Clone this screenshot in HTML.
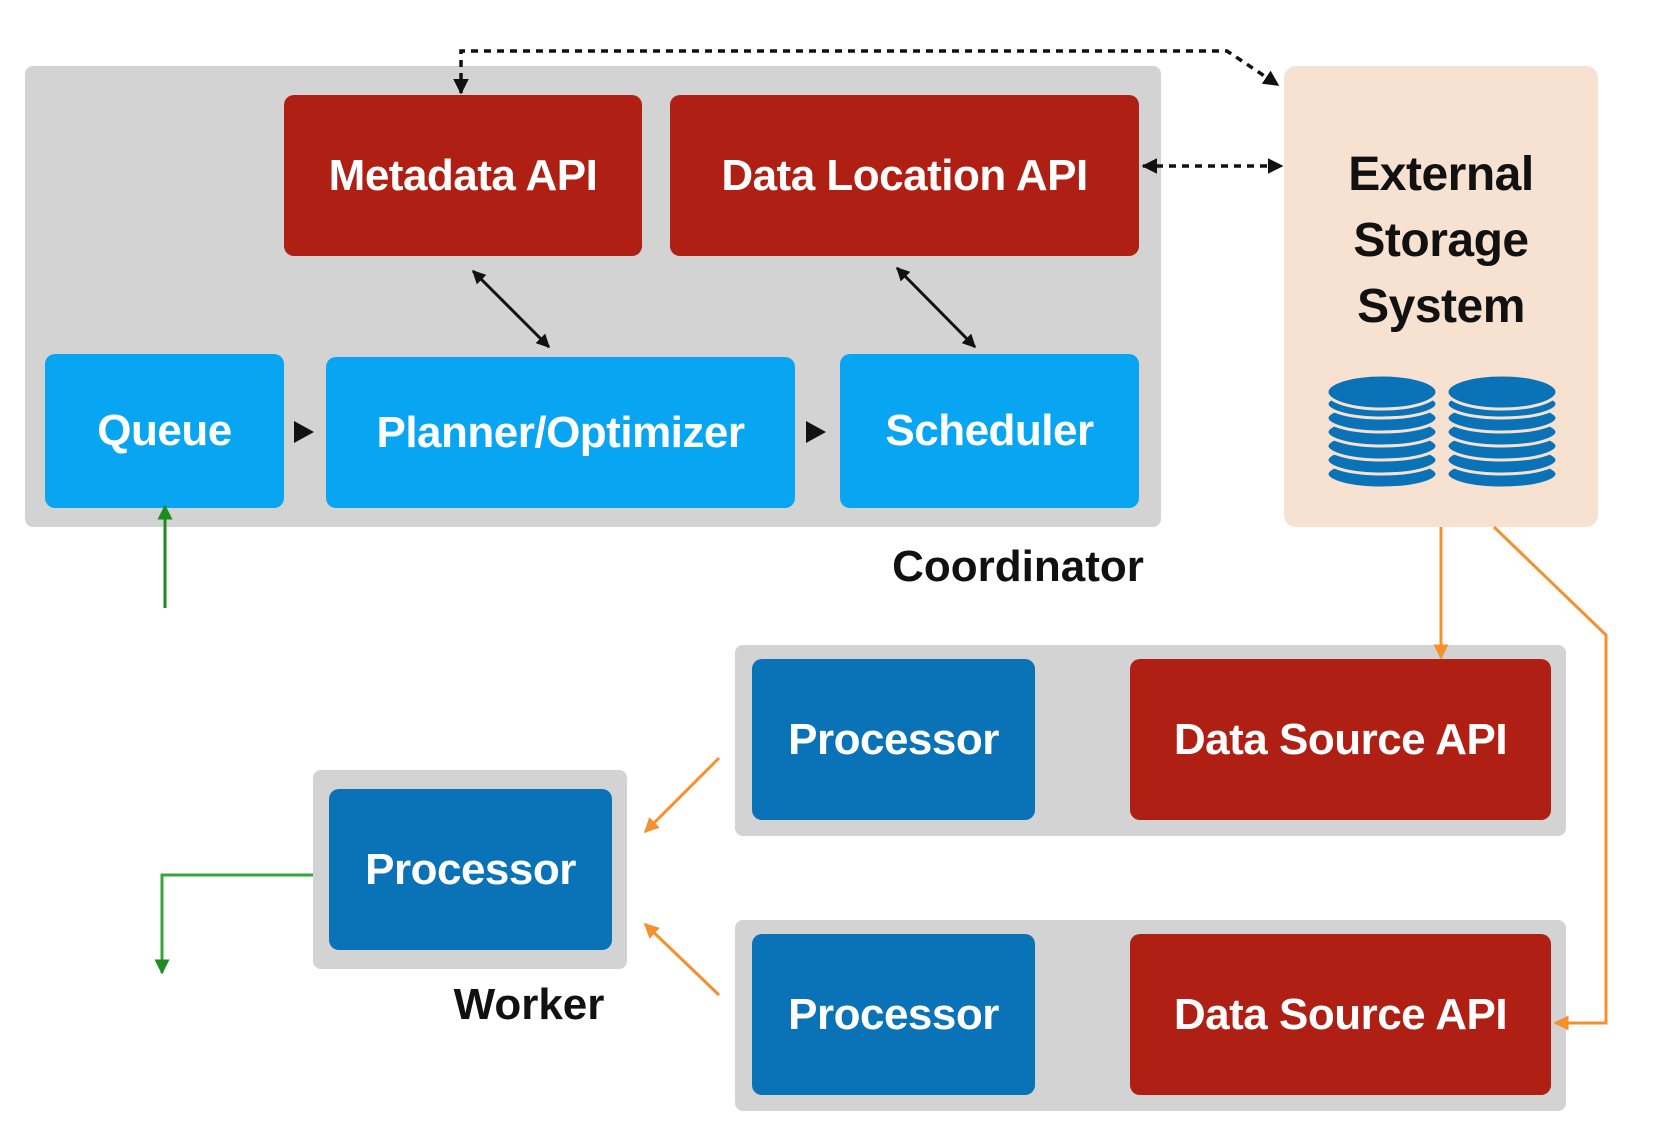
<!DOCTYPE html>
<html><head><meta charset="utf-8"><style>
body{margin:0;width:1659px;height:1143px;background:#fff;position:relative;overflow:hidden;font-family:"Liberation Sans",sans-serif;font-weight:bold}
div{position:absolute;box-sizing:border-box}
.g{background:#d3d3d3;border-radius:8px}
.b{border-radius:10px;color:#fff;display:flex;align-items:center;justify-content:center;font-size:44px;letter-spacing:-0.5px}
.r{background:#b01f13}
.l{background:#08a6f2}
.d{background:#0a72b6}
.t{color:#111;font-size:44px;text-align:center}
</style></head><body>
<div class="g" style="left:25px;top:66px;width:1136px;height:461px"></div>
<div class="b r" style="left:284px;top:95px;width:358px;height:161px">Metadata API</div>
<div class="b r" style="left:670px;top:95px;width:469px;height:161px">Data Location API</div>
<div class="b l" style="left:45px;top:354px;width:239px;height:154px">Queue</div>
<div class="b l" style="left:326px;top:357px;width:469px;height:151px">Planner/Optimizer</div>
<div class="b l" style="left:840px;top:354px;width:299px;height:154px">Scheduler</div>
<div style="left:1284px;top:66px;width:314px;height:461px;background:#f7e2d2;border-radius:12px"></div>
<div class="t" style="left:1284px;top:142px;width:314px;font-size:48px;line-height:66px;letter-spacing:-0.5px">External<br>Storage<br>System</div>
<div class="t" style="left:818px;top:542px;width:400px">Coordinator</div>

<div class="g" style="left:735px;top:645px;width:831px;height:191px"></div>
<div class="b d" style="left:752px;top:659px;width:283px;height:161px">Processor</div>
<div class="b r" style="left:1130px;top:659px;width:421px;height:161px">Data Source API</div>
<div class="g" style="left:735px;top:920px;width:831px;height:191px"></div>
<div class="b d" style="left:752px;top:934px;width:283px;height:161px">Processor</div>
<div class="b r" style="left:1130px;top:934px;width:421px;height:161px">Data Source API</div>
<div class="g" style="left:313px;top:770px;width:314px;height:199px"></div>
<div class="b d" style="left:329px;top:789px;width:283px;height:161px">Processor</div>
<div class="t" style="left:379px;top:980px;width:300px">Worker</div>

<svg width="1659" height="1143" style="position:absolute;left:0;top:0">
<defs>
<marker id="k" viewBox="0 0 10 10" refX="9" refY="5" markerWidth="4.5" markerHeight="4.5" orient="auto-start-reverse"><path d="M0,0L10,5L0,10z" fill="#111"/></marker>
<marker id="o" viewBox="0 0 10 10" refX="9" refY="5" markerWidth="5" markerHeight="5" orient="auto"><path d="M0,0L10,5L0,10z" fill="#f5902e"/></marker>
<marker id="gr" viewBox="0 0 10 10" refX="9" refY="5" markerWidth="5" markerHeight="5" orient="auto"><path d="M0,0L10,5L0,10z" fill="#1e8a22"/></marker>
</defs>
<g fill="#0a72b6" stroke="#f7e2d2" stroke-width="3">
<g id="cyl">
<ellipse cx="1382" cy="474" rx="55" ry="14"/>
<ellipse cx="1382" cy="460" rx="55" ry="14"/>
<ellipse cx="1382" cy="446" rx="55" ry="14"/>
<ellipse cx="1382" cy="432" rx="55" ry="14"/>
<ellipse cx="1382" cy="418" rx="55" ry="14"/>
<ellipse cx="1382" cy="404" rx="55" ry="14"/>
<ellipse cx="1382" cy="392" rx="55" ry="17"/>
</g>
<use href="#cyl" x="120"/>
</g>
<path d="M294,421L314,432L294,443z" fill="#111"/>
<path d="M806,421L826,432L806,443z" fill="#111"/>
<line x1="473" y1="271" x2="549" y2="347" stroke="#111" stroke-width="3" marker-start="url(#k)" marker-end="url(#k)"/>
<line x1="897" y1="268" x2="975" y2="347" stroke="#111" stroke-width="3" marker-start="url(#k)" marker-end="url(#k)"/>
<path d="M461,93L461,51L1227,51L1278,85" fill="none" stroke="#111" stroke-width="3.5" stroke-dasharray="7,6" marker-start="url(#k)" marker-end="url(#k)"/>
<line x1="1143" y1="166" x2="1282" y2="166" stroke="#111" stroke-width="3.5" stroke-dasharray="7,6" marker-start="url(#k)" marker-end="url(#k)"/>
<line x1="165" y1="608" x2="165" y2="506" stroke="#1e8a22" stroke-width="3" marker-end="url(#gr)"/>
<path d="M313,875L162,875L162,973" fill="none" stroke="#3aa43a" stroke-width="3" marker-end="url(#gr)"/>
<line x1="1441" y1="527" x2="1441" y2="658" stroke="#f5902e" stroke-width="3" marker-end="url(#o)"/>
<path d="M1494,527L1606,635L1606,1023L1555,1023" fill="none" stroke="#f5902e" stroke-width="3" marker-end="url(#o)"/>
<line x1="719" y1="758" x2="645" y2="832" stroke="#f5902e" stroke-width="3" marker-end="url(#o)"/>
<line x1="719" y1="995" x2="645" y2="924" stroke="#f5902e" stroke-width="3" marker-end="url(#o)"/>
</svg>
</body></html>
